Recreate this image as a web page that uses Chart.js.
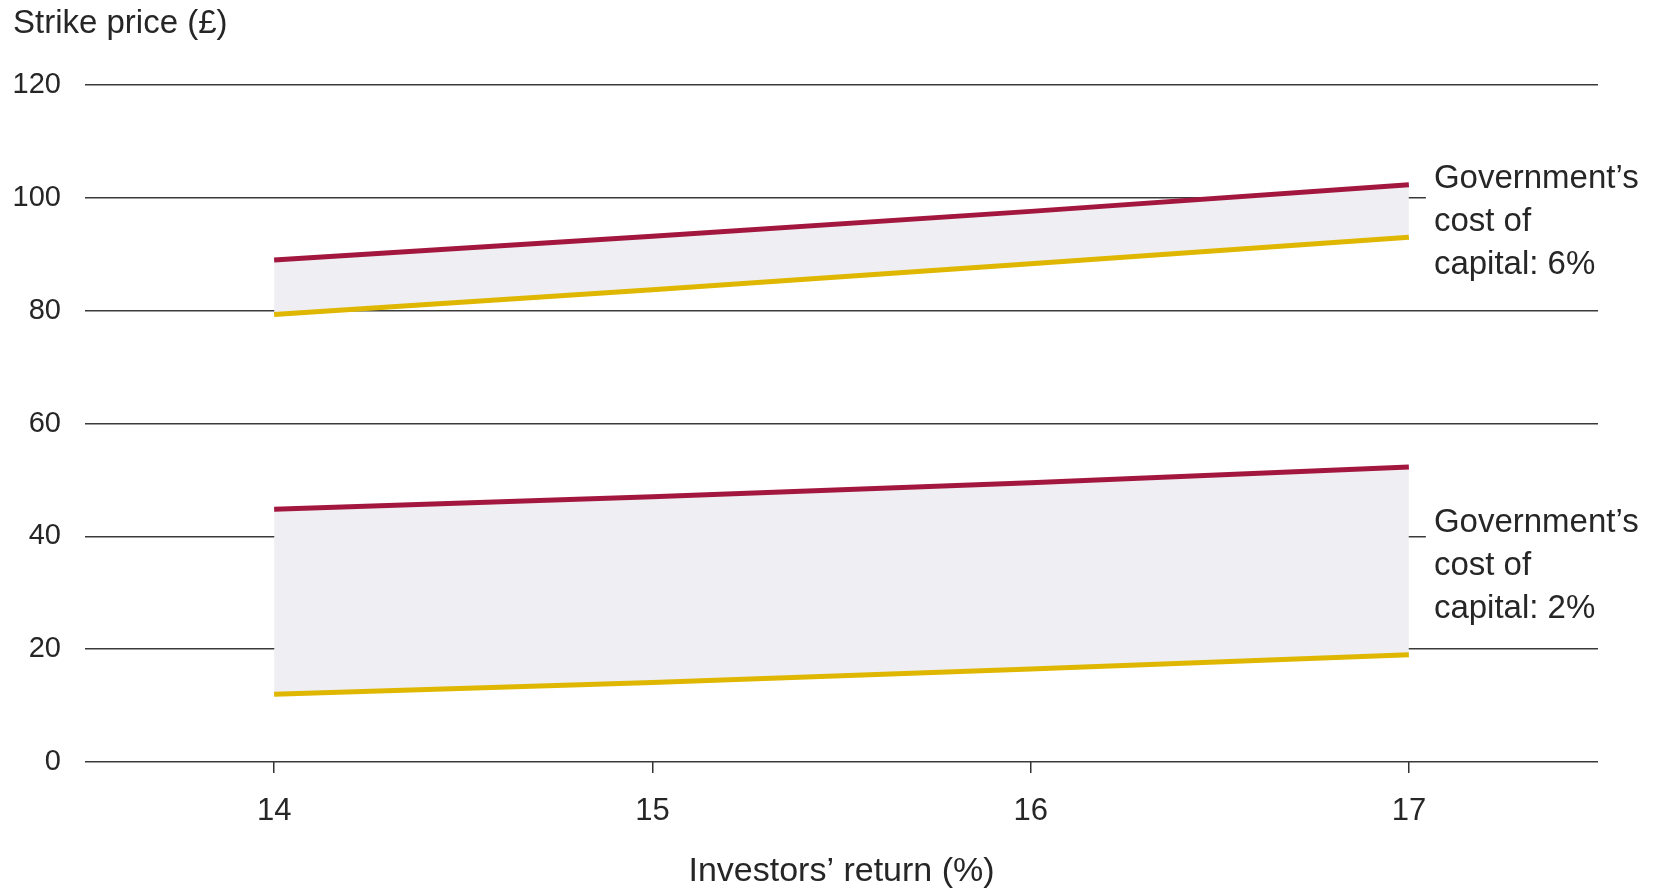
<!DOCTYPE html>
<html>
<head>
<meta charset="utf-8">
<script src="https://cdn.jsdelivr.net/npm/chart.js@4.4.0/dist/chart.umd.min.js"></script>
<style>
  body{margin:0;background:#fff;}
  #myChart{display:block;}
</style>
</head>
<body>
<canvas id="myChart" width="1654" height="889"></canvas>
<script>
// investors' return (%) on the x axis
const returns = [14, 15, 16, 17]
const xTicks = [14, 15, 16, 17]
const yTicks = [0, 20, 40, 60, 80, 100, 120]

// strike price (£) for each cost-of-capital band
const upper6 = [89, 93.2, 97.6, 102.3]
const lower6 = [79.3, 83.7, 88.3, 93]
const upper2 = [44.8, 47, 49.5, 52.3]
const lower2 = [12, 14.1, 16.5, 19]

const bandLabels = [
  ['Government\u2019s', 'cost of', 'capital: 6%'],
  ['Government\u2019s', 'cost of', 'capital: 2%']
]
const labelAnchors = [103.4, 42.4]   // y value of first label line

const red = '#a3173f'
const yellow = '#dfb700'
const band = '#eeeef3'
const font = '"Liberation Sans", Arial, Helvetica, sans-serif'

const toPoints = (ys) => ys.map((y, i) => ({x: returns[i], y: y}))

// text boxes on the right and the y axis title
const labelPlugin = {
  id: 'bandLabels',
  afterDatasetsDraw(chart) {
    const ctx = chart.ctx
    const xs = chart.scales.x
    const ys = chart.scales.y
    ctx.save()
    ctx.font = '33px ' + font
    ctx.textBaseline = 'middle'
    ctx.textAlign = 'left'
    const lineH = 43
    bandLabels.forEach((lines, k) => {
      const left = xs.getPixelForValue(17) + 25
      const top = ys.getPixelForValue(labelAnchors[k])
      ctx.fillStyle = '#fff'
      ctx.fillRect(left - 8, top - 21, 260, lineH * (lines.length - 1) + 44)
      ctx.fillStyle = '#262626'
      lines.forEach((t, j) => ctx.fillText(t, left, top + j * lineH))
    })
    ctx.font = '33px ' + font
    ctx.fillText('Strike price (\u00a3)', 13, 24)
    ctx.restore()
  }
}

new Chart('myChart', {
  type: 'line',
  data: {
    datasets: [
      {data: toPoints(upper6), borderColor: red, borderWidth: 5, fill: {target: 1, above: band, below: band}, backgroundColor: band},
      {data: toPoints(lower6), borderColor: yellow, borderWidth: 5, fill: false},
      {data: toPoints(upper2), borderColor: red, borderWidth: 5, fill: {target: 3, above: band, below: band}, backgroundColor: band},
      {data: toPoints(lower2), borderColor: yellow, borderWidth: 5, fill: false}
    ]
  },
  options: {
    responsive: false,
    animation: false,
    elements: {point: {radius: 0}, line: {tension: 0, borderCapStyle: 'butt'}},
    layout: {padding: {left: 0, right: 56, top: 85, bottom: 0}},
    plugins: {
      legend: {display: false},
      tooltip: {enabled: false},
      filler: {drawTime: 'beforeDatasetsDraw'}
    },
    scales: {
      x: {
        type: 'linear',
        min: 13.5,
        max: 17.5,
        afterBuildTicks: (scale) => { scale.ticks = xTicks.map(v => ({value: v})) },
        afterFit: (scale) => { scale.height = 127 },
        border: {display: false},
        grid: {drawOnChartArea: false, drawTicks: true, tickLength: 11, color: '#333', lineWidth: 1.5},
        ticks: {color: '#262626', font: {family: font, size: 31}, padding: 20, maxRotation: 0},
        title: {display: true, text: 'Investors\u2019 return (%)', color: '#262626', font: {family: font, size: 34, lineHeight: 1}, padding: {top: 0, bottom: 0}}
      },
      y: {
        min: 0,
        max: 120,
        afterBuildTicks: (scale) => { scale.ticks = yTicks.map(v => ({value: v})) },
        afterFit: (scale) => { scale.width = 85 },
        border: {display: false},
        grid: {drawTicks: false, color: '#3a3a3a', lineWidth: 1.5},
        ticks: {color: '#262626', font: {family: font, size: 29}, padding: 24}
      }
    }
  },
  plugins: [labelPlugin]
})
</script>
</body>
</html>
